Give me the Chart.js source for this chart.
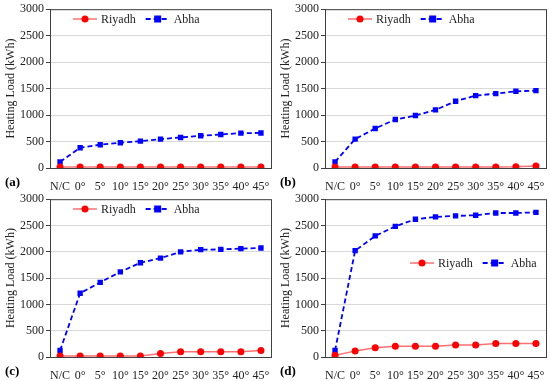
<!DOCTYPE html>
<html>
<head>
<meta charset="utf-8">
<script src="https://cdn.jsdelivr.net/npm/chart.js@4"></script>
<style>
  body { margin: 0; background: #fff; }
  .panel { position: absolute; }
</style>
</head>
<body>
<div class="panel" style="left:0;top:0;width:275px;height:190px"><canvas id="chartA"></canvas></div>
<div class="panel" style="left:275px;top:0;width:275px;height:190px"><canvas id="chartB"></canvas></div>
<div class="panel" style="left:0;top:190px;width:275px;height:191px"><canvas id="chartC"></canvas></div>
<div class="panel" style="left:275px;top:190px;width:275px;height:191px"><canvas id="chartD"></canvas></div>
<script>
// data
var angles = ["N/C", "0°", "5°", "10°", "15°", "20°", "25°", "30°", "35°", "40°", "45°"];
var yTicks = [0, 500, 1000, 1500, 2000, 2500, 3000];

var riyadhA = [20, 20, 20, 20, 20, 20, 20, 20, 20, 20, 20];
var abhaA = [115, 383, 439, 477, 508, 546, 577, 609, 634, 659, 662];

var riyadhB = [20, 20, 20, 20, 20, 20, 20, 20, 20, 22, 38];
var abhaB = [115, 546, 747, 916, 991, 1098, 1261, 1368, 1405, 1449, 1462];

var riyadhC = [20, 20, 20, 20, 20, 68, 100, 100, 100, 100, 124];
var abhaC = [124, 1213, 1419, 1618, 1792, 1879, 1998, 2041, 2045, 2060, 2072];

var riyadhD = [31, 112, 174, 205, 205, 205, 230, 230, 255, 255, 255];
var abhaD = [124, 2022, 2302, 2483, 2620, 2663, 2682, 2695, 2738, 2738, 2750];

var fontFam = "'Liberation Serif', 'DejaVu Serif', serif";

// frame, panel letter and legend (line + marker) drawn by hand
const decor = {
  id: "decor",
  afterDraw(chart, args, opts) {
    const c = chart.ctx, a = chart.chartArea;
    c.save();
    c.strokeStyle = "#404040";
    c.lineWidth = 1;
    c.strokeRect(a.left + 0.5, a.top + 0.5, a.right - a.left, a.bottom - a.top);

    c.fillStyle = "#000";
    c.font = "bold 13px " + fontFam;
    c.textBaseline = "middle";
    c.textAlign = "left";
    c.fillText(opts.letter, 5, a.bottom + 15);

    // legend
    let x = opts.lx, y = opts.ly;
    c.font = "12px " + fontFam;
    chart.data.datasets.forEach(function (ds) {
      c.strokeStyle = ds.borderColor;
      c.lineWidth = ds.borderWidth;
      c.setLineDash(ds.borderDash || []);
      c.beginPath();
      c.moveTo(x, y);
      c.lineTo(x + 24, y);
      c.stroke();
      c.setLineDash([]);
      c.fillStyle = ds.pointBackgroundColor;
      if (ds.pointStyle === "rect") {
        c.fillRect(x + 12 - 3.5, y - 3.5, 7, 7);
      } else {
        c.beginPath();
        c.arc(x + 12, y, 3.5, 0, Math.PI * 2);
        c.fill();
      }
      c.fillStyle = "#222";
      c.fillText(ds.label, x + 28, y + 1);
      x += 28 + c.measureText(ds.label).width + 10;
    });
    c.restore();
  }
};

function makeChart(id, riyadh, abha, letter, top, xh, lx, ly) {
  new Chart(id, {
    type: "line",
    data: {
      labels: angles,
      datasets: [{
        label: "Riyadh",
        data: riyadh,
        borderColor: "#ff7070",
        borderWidth: 1.5,
        pointStyle: "circle",
        pointRadius: 3.5,
        pointBackgroundColor: "#ff0000",
        pointBorderColor: "#ff0000",
        pointBorderWidth: 0
      },
      {
        label: "Abha",
        data: abha,
        borderColor: "#0000ff",
        borderWidth: 1.8,
        borderDash: [5, 3],
        pointStyle: "rect",
        pointRadius: 3.8,
        pointBackgroundColor: "#0000ff",
        pointBorderColor: "#0000ff",
        pointBorderWidth: 0
      }]
    },
    options: {
      responsive: true,
      maintainAspectRatio: false,
      animation: false,
      layout: { padding: { top: top, right: 3, left: 0, bottom: 0 } },
      plugins: {
        legend: { display: false },
        tooltip: { enabled: false },
        decor: { letter: letter, lx: lx, ly: ly }
      },
      scales: {
        x: {
          offset: true,
          grid: { display: false },
          border: { color: "#404040" },
          ticks: { color: "#222", font: { family: fontFam, size: 12 }, padding: 4, maxRotation: 0, autoSkip: false },
          afterFit: function (s) { s.height = xh; }
        },
        y: {
          min: 0,
          max: 3000,
          afterBuildTicks: function (s) { s.ticks = yTicks.map(function (v) { return { value: v }; }); },
          grid: { color: "#d9d9d9", tickLength: 4, tickColor: "#404040" },
          border: { color: "#404040" },
          ticks: { color: "#222", font: { family: fontFam, size: 12 }, padding: 2, callback: function (v) { return String(v); } },
          title: { display: true, text: "Heating Load (kWh)", color: "#222", font: { family: fontFam, size: 12 }, padding: { top: 4, bottom: 0 } },
          afterFit: function (s) { s.width = 50; }
        }
      }
    },
    plugins: [decor]
  });
}

makeChart("chartA", riyadhA, abhaA, "(a)", 8, 22, 73, 19);
makeChart("chartB", riyadhB, abhaB, "(b)", 8, 22, 73, 19);
makeChart("chartC", riyadhC, abhaC, "(c)", 6, 24, 73, 19);
makeChart("chartD", riyadhD, abhaD, "(d)", 6, 24, 135, 73);
</script>
</body>
</html>
